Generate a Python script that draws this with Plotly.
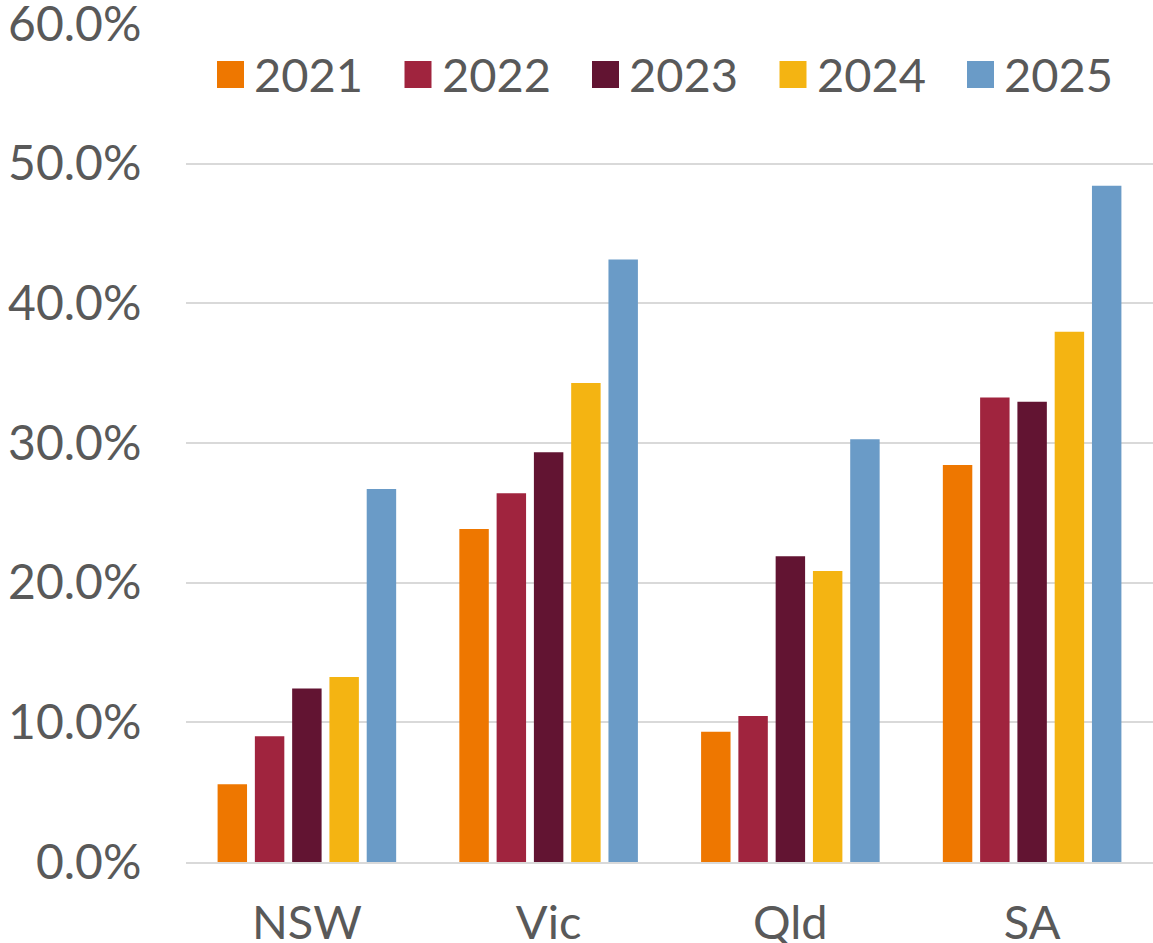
import plotly.graph_objects as go

categories = ["NSW", "Vic", "Qld", "SA"]
years = ["2021", "2022", "2023", "2024", "2025"]
colors = ["#EE7700", "#A0243E", "#621432", "#F4B412", "#6A9BC7"]

v2021 = [0.0556, 0.2384, 0.0933, 0.2842]
v2022 = [0.0900, 0.2641, 0.1045, 0.3326]
v2023 = [0.1243, 0.2933, 0.2190, 0.3295]
v2024 = [0.1324, 0.3429, 0.2083, 0.3796]
v2025 = [0.2670, 0.4314, 0.3026, 0.4841]
series = [v2021, v2022, v2023, v2024, v2025]

W, H = 1153, 943
ML, MR, MT, MB = 186, 0, 24, 81
FONT = "Lato"
TXT = "#595959"

fig = go.Figure()
for name, vals, col in zip(years, series, colors):
    fig.add_trace(go.Bar(x=categories, y=vals, name=name, marker=dict(color=col, line=dict(width=0)),
                         showlegend=False))

# custom legend (large square swatches)
pw = W - ML - MR
ph = H - MT - MB
def px_x(p):
    return (p - ML) / pw
def px_y(p):
    return (H - MB - p) / ph

leg_start = 217
leg_step = 187.5
sq = 27
sq_top = 61
shapes = []
annotations = []
for i, (name, col) in enumerate(zip(years, colors)):
    x0 = leg_start + i * leg_step
    shapes.append(dict(type="rect", xref="paper", yref="paper",
                       x0=px_x(x0), x1=px_x(x0 + sq), y0=px_y(sq_top + sq), y1=px_y(sq_top),
                       fillcolor=col, line=dict(width=0), layer="above"))
    annotations.append(dict(xref="paper", yref="paper", x=px_x(x0 + sq + 8), y=px_y(sq_top + sq / 2 - 1),
                            text=name, showarrow=False, xanchor="left", yanchor="middle",
                            font=dict(family=FONT, size=47, color=TXT)))

fig.update_layout(
    width=W, height=H,
    margin=dict(l=ML, r=MR, t=MT, b=MB, pad=0, autoexpand=False),
    paper_bgcolor="white", plot_bgcolor="white",
    barmode="group", bargap=0.229, bargroupgap=0.21,
    font=dict(family=FONT, size=47, color=TXT),
    shapes=shapes, annotations=annotations,
    xaxis=dict(showgrid=False, showline=True, linecolor="#D9D9D9", linewidth=2,
               automargin=False, ticklabeloverflow="allow",
               ticks="outside", ticklen=19, tickcolor="rgba(0,0,0,0)",
               tickfont=dict(family=FONT, size=47, color=TXT)),
    yaxis=dict(range=[0, 0.6], dtick=0.1, tickformat=".1%", showgrid=True,
               automargin=False, ticklabeloverflow="allow",
               gridcolor="#D9D9D9", gridwidth=2, zeroline=False, showline=False,
               ticks="outside", ticklen=34, tickcolor="rgba(0,0,0,0)",
               tickfont=dict(family=FONT, size=48, color=TXT)),
)

fig.write_html("out.html", config={"displayModeBar": False},
               post_script="document.body.style.margin='0';document.body.style.overflow='hidden';")
